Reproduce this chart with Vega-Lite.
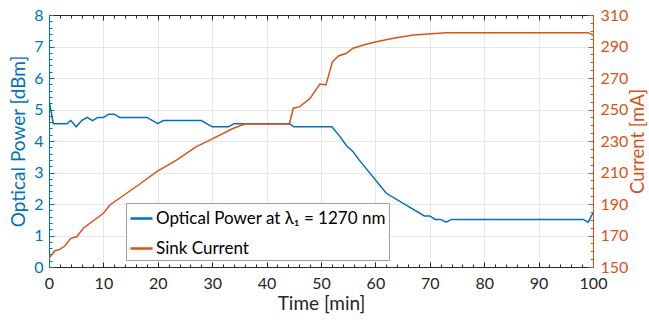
{
  "$schema": "https://vega.github.io/schema/vega-lite/v6.json",
  "width": 544,
  "height": 252,
  "autosize": "none",
  "padding": {"left": 49, "top": 15, "right": 56, "bottom": 57},
  "background": "white",
  "config": {
    "view": {"stroke": null},
    "font": "Lato",
    "axis": {"labelFont": "Lato", "titleFont": "Lato", "titleFontWeight": "normal", "labelOverlap": false, "labelFlush": false}
  },
  "datasets": {
    "power": [
      {"t": 0, "power": 5.3, "series": "Optical Power at λ₁ = 1270 nm"},
      {"t": 0.8, "power": 4.55, "series": "Optical Power at λ₁ = 1270 nm"},
      {"t": 3.3, "power": 4.55, "series": "Optical Power at λ₁ = 1270 nm"},
      {"t": 4, "power": 4.65, "series": "Optical Power at λ₁ = 1270 nm"},
      {"t": 5, "power": 4.45, "series": "Optical Power at λ₁ = 1270 nm"},
      {"t": 6, "power": 4.65, "series": "Optical Power at λ₁ = 1270 nm"},
      {"t": 7, "power": 4.75, "series": "Optical Power at λ₁ = 1270 nm"},
      {"t": 8, "power": 4.65, "series": "Optical Power at λ₁ = 1270 nm"},
      {"t": 9, "power": 4.75, "series": "Optical Power at λ₁ = 1270 nm"},
      {"t": 10, "power": 4.75, "series": "Optical Power at λ₁ = 1270 nm"},
      {"t": 11, "power": 4.85, "series": "Optical Power at λ₁ = 1270 nm"},
      {"t": 12, "power": 4.85, "series": "Optical Power at λ₁ = 1270 nm"},
      {"t": 13, "power": 4.75, "series": "Optical Power at λ₁ = 1270 nm"},
      {"t": 18, "power": 4.75, "series": "Optical Power at λ₁ = 1270 nm"},
      {"t": 20, "power": 4.55, "series": "Optical Power at λ₁ = 1270 nm"},
      {"t": 21, "power": 4.65, "series": "Optical Power at λ₁ = 1270 nm"},
      {"t": 28, "power": 4.65, "series": "Optical Power at λ₁ = 1270 nm"},
      {"t": 30, "power": 4.45, "series": "Optical Power at λ₁ = 1270 nm"},
      {"t": 33, "power": 4.45, "series": "Optical Power at λ₁ = 1270 nm"},
      {"t": 34, "power": 4.55, "series": "Optical Power at λ₁ = 1270 nm"},
      {"t": 44.2, "power": 4.55, "series": "Optical Power at λ₁ = 1270 nm"},
      {"t": 45, "power": 4.45, "series": "Optical Power at λ₁ = 1270 nm"},
      {"t": 52, "power": 4.45, "series": "Optical Power at λ₁ = 1270 nm"},
      {"t": 53.5, "power": 4.14, "series": "Optical Power at λ₁ = 1270 nm"},
      {"t": 54.7, "power": 3.85, "series": "Optical Power at λ₁ = 1270 nm"},
      {"t": 55.9, "power": 3.66, "series": "Optical Power at λ₁ = 1270 nm"},
      {"t": 57, "power": 3.4, "series": "Optical Power at λ₁ = 1270 nm"},
      {"t": 62, "power": 2.34, "series": "Optical Power at λ₁ = 1270 nm"},
      {"t": 69, "power": 1.62, "series": "Optical Power at λ₁ = 1270 nm"},
      {"t": 70, "power": 1.62, "series": "Optical Power at λ₁ = 1270 nm"},
      {"t": 71, "power": 1.51, "series": "Optical Power at λ₁ = 1270 nm"},
      {"t": 72, "power": 1.51, "series": "Optical Power at λ₁ = 1270 nm"},
      {"t": 73, "power": 1.42, "series": "Optical Power at λ₁ = 1270 nm"},
      {"t": 74, "power": 1.51, "series": "Optical Power at λ₁ = 1270 nm"},
      {"t": 98.2, "power": 1.51, "series": "Optical Power at λ₁ = 1270 nm"},
      {"t": 99.1, "power": 1.42, "series": "Optical Power at λ₁ = 1270 nm"},
      {"t": 100, "power": 1.72, "series": "Optical Power at λ₁ = 1270 nm"}
    ],
    "current": [
      {"t": 0, "current": 155.5, "series": "Sink Current"},
      {"t": 1.1, "current": 160.3, "series": "Sink Current"},
      {"t": 2, "current": 161.2, "series": "Sink Current"},
      {"t": 2.9, "current": 163.3, "series": "Sink Current"},
      {"t": 4, "current": 168.2, "series": "Sink Current"},
      {"t": 5.1, "current": 169.2, "series": "Sink Current"},
      {"t": 6.3, "current": 174.6, "series": "Sink Current"},
      {"t": 10, "current": 184.1, "series": "Sink Current"},
      {"t": 11.2, "current": 189.4, "series": "Sink Current"},
      {"t": 16.7, "current": 202.7, "series": "Sink Current"},
      {"t": 19.8, "current": 210.5, "series": "Sink Current"},
      {"t": 23.5, "current": 218, "series": "Sink Current"},
      {"t": 27.1, "current": 226.4, "series": "Sink Current"},
      {"t": 30.2, "current": 231.7, "series": "Sink Current"},
      {"t": 33.9, "current": 238.1, "series": "Sink Current"},
      {"t": 36, "current": 240.8, "series": "Sink Current"},
      {"t": 44.2, "current": 240.8, "series": "Sink Current"},
      {"t": 44.9, "current": 250.8, "series": "Sink Current"},
      {"t": 46.1, "current": 251.8, "series": "Sink Current"},
      {"t": 48, "current": 257.1, "series": "Sink Current"},
      {"t": 49.8, "current": 266.2, "series": "Sink Current"},
      {"t": 50.9, "current": 265.6, "series": "Sink Current"},
      {"t": 52.1, "current": 280.3, "series": "Sink Current"},
      {"t": 53.2, "current": 284, "series": "Sink Current"},
      {"t": 54.7, "current": 285.7, "series": "Sink Current"},
      {"t": 55.9, "current": 288.9, "series": "Sink Current"},
      {"t": 57.8, "current": 291, "series": "Sink Current"},
      {"t": 60.2, "current": 293, "series": "Sink Current"},
      {"t": 63.3, "current": 295.2, "series": "Sink Current"},
      {"t": 67, "current": 297.3, "series": "Sink Current"},
      {"t": 73.1, "current": 298.8, "series": "Sink Current"},
      {"t": 99.1, "current": 298.8, "series": "Sink Current"},
      {"t": 100, "current": 297.3, "series": "Sink Current"}
    ]
  },
  "layer": [
    {
      "data": {"name": "power"},
      "mark": {"type": "line", "strokeWidth": 1.5, "clip": true},
      "encoding": {
        "x": {"field": "t", "type": "quantitative", "scale": {"domain": [0, 100], "nice": false},
          "axis": {"orient": "bottom", "title": "Time [min]", "values": [0,10,20,30,40,50,60,70,80,90,100],
            "grid": true, "gridColor": "#e3e8ee", "tickSize": -5, "tickColor": "#262626", "domainColor": "#262626",
            "labelColor": "#262626", "labelFontSize": 16, "labelPadding": 13, "titleColor": "#262626", "titleFontSize": 19, "titlePadding": 3}},
        "y": {"field": "power", "type": "quantitative", "scale": {"domain": [0, 8], "nice": false},
          "axis": {"orient": "left", "title": "Optical Power [dBm]", "values": [0,1,2,3,4,5,6,7,8],
            "grid": true, "gridColor": "#e3e8ee", "tickSize": -5, "tickColor": "#0072BD", "domainColor": "#0072BD",
            "labelColor": "#0072BD", "labelFontSize": 16, "labelPadding": 11, "titleColor": "#0072BD", "titleFontSize": 19, "titlePadding": 5}},
        "color": {"field": "series", "type": "nominal",
          "scale": {"domain": ["Optical Power at λ₁ = 1270 nm", "Sink Current"], "range": ["#0072BD", "#D95319"]},
          "legend": {"orient": "none", "legendX": 77, "legendY": 188, "title": null, "symbolType": "stroke",
            "symbolStrokeWidth": 2.5, "symbolSize": 484, "labelFontSize": 17, "labelColor": "#000000",
            "strokeColor": "#a0a0a0", "fillColor": "white", "padding": 3, "rowPadding": 9, "labelOffset": 2, "labelLimit": 400}}
      }
    },
    {
      "data": {"name": "current"},
      "mark": {"type": "line", "strokeWidth": 1.5, "clip": true},
      "encoding": {
        "x": {"field": "t", "type": "quantitative", "scale": {"domain": [0, 100], "nice": false},
          "axis": {"orient": "top", "title": null, "labels": false, "values": [0,10,20,30,40,50,60,70,80,90,100],
            "grid": false, "tickSize": -5, "tickColor": "#262626", "domainColor": "#262626"}},
        "y": {"field": "current", "type": "quantitative", "scale": {"domain": [150, 310], "nice": false},
          "axis": {"orient": "right", "title": "Current [mA]", "values": [150,170,190,210,230,250,270,290,310],
            "grid": false, "tickSize": -5, "tickColor": "#D95319", "domainColor": "#D95319",
            "labelColor": "#D95319", "labelFontSize": 16, "labelPadding": 12, "titleColor": "#D95319", "titleFontSize": 18.5, "titlePadding": 1, "titleAngle": 270, "titleBaseline": "top"}},
        "color": {"field": "series", "type": "nominal"}
      }
    },
    {
      "data": {"name": "power"},
      "mark": {"type": "line", "opacity": 0},
      "encoding": {
        "x": {"field": "t", "type": "quantitative", "scale": {"domain": [0, 100], "nice": false},
          "axis": {"orient": "bottom", "title": null, "labels": false, "domain": false, "grid": false,
            "values": [2,4,6,8,12,14,16,18,22,24,26,28,32,34,36,38,42,44,46,48,52,54,56,58,62,64,66,68,72,74,76,78,82,84,86,88,92,94,96,98],
            "tickSize": -3, "tickColor": "#262626"}},
        "y": {"field": "power", "type": "quantitative", "scale": {"domain": [0, 8], "nice": false},
          "axis": {"orient": "left", "title": null, "labels": false, "domain": false, "grid": false,
            "values": [0.2,0.4,0.6,0.8,1.2,1.4,1.6,1.8,2.2,2.4,2.6,2.8,3.2,3.4,3.6,3.8,4.2,4.4,4.6,4.8,5.2,5.4,5.6,5.8,6.2,6.4,6.6,6.8,7.2,7.4,7.6,7.8],
            "tickSize": -3, "tickColor": "#0072BD"}}
      }
    },
    {
      "data": {"name": "current"},
      "mark": {"type": "line", "opacity": 0},
      "encoding": {
        "x": {"field": "t", "type": "quantitative", "scale": {"domain": [0, 100], "nice": false},
          "axis": {"orient": "top", "title": null, "labels": false, "domain": false, "grid": false,
            "values": [2,4,6,8,12,14,16,18,22,24,26,28,32,34,36,38,42,44,46,48,52,54,56,58,62,64,66,68,72,74,76,78,82,84,86,88,92,94,96,98],
            "tickSize": -3, "tickColor": "#262626"}},
        "y": {"field": "current", "type": "quantitative", "scale": {"domain": [150, 310], "nice": false},
          "axis": {"orient": "right", "title": null, "labels": false, "domain": false, "grid": false,
            "values": [155,160,165,175,180,185,195,200,205,215,220,225,235,240,245,255,260,265,275,280,285,295,300,305],
            "tickSize": -3, "tickColor": "#D95319"}}
      }
    }
  ],
  "resolve": {"scale": {"x": "independent", "y": "independent"}}
}
